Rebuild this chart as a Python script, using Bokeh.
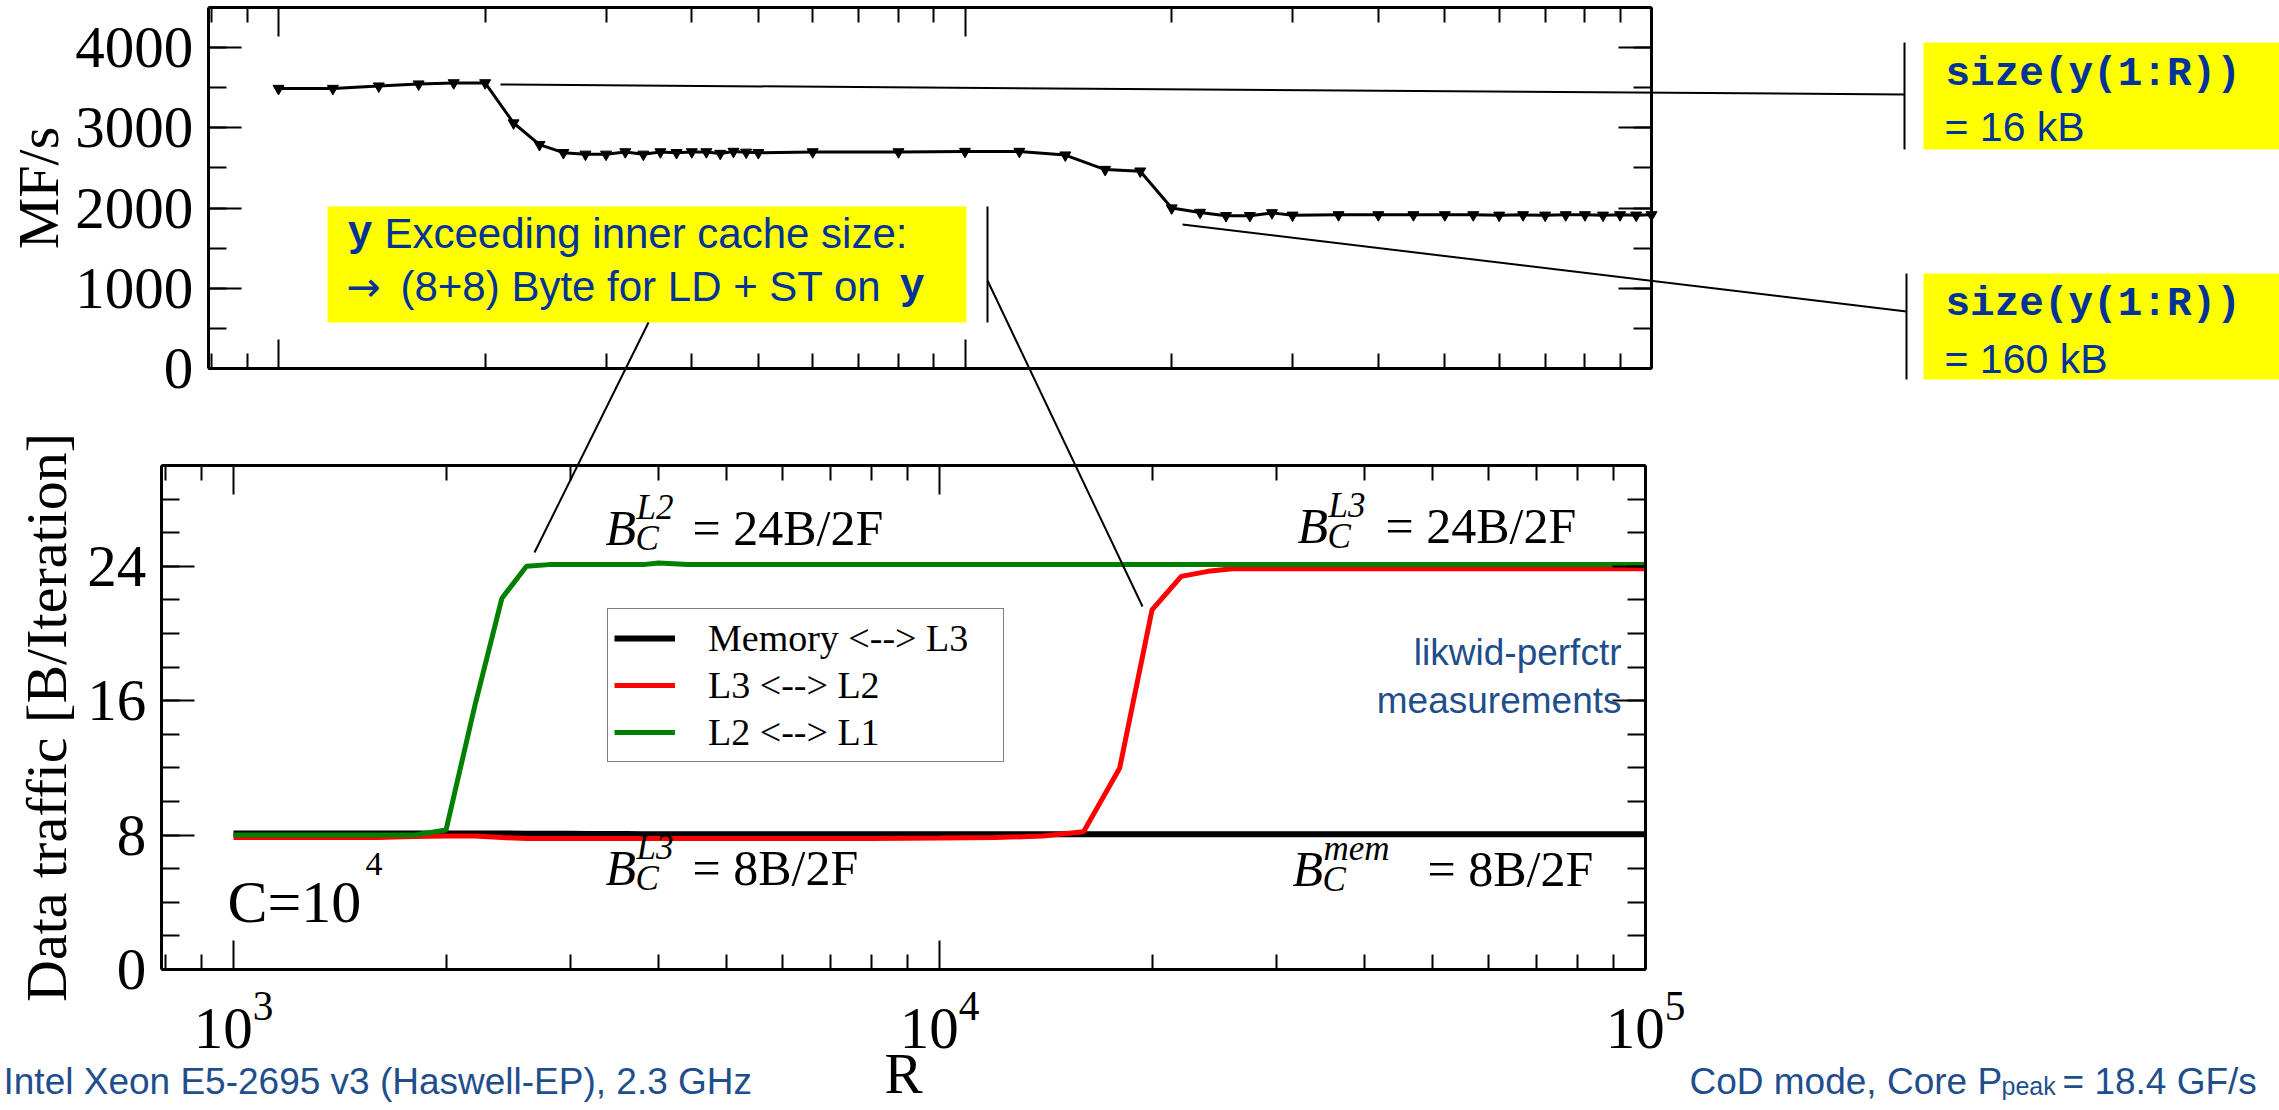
import math

from bokeh.embed import file_html
from bokeh.models import (Arrow, BoxAnnotation, CustomJSTickFormatter, FixedTicker, Label,
                          Legend, LegendItem, LinearAxis, LogAxis, LogScale, Range1d,
                          SingleIntervalTicker)
from bokeh.plotting import figure
from bokeh.resources import INLINE

# ---------------------------------------------------------------- data
# loop length R, shared by both panels
R = [1000, 1200, 1400, 1600, 1800, 2000, 2200, 2400, 2600, 2800,
     3000, 3200, 3400, 3600, 3800, 4000, 4200, 4400, 4600, 4800,
     5000, 6000, 8000, 10000, 12000, 14000, 16000, 18000, 20000, 22000,
     24000, 26000, 28000, 30000, 35000, 40000, 45000, 50000, 55000, 60000,
     65000, 70000, 75000, 80000, 85000, 90000, 95000, 100000]

# performance [MF/s]
mflops = [3490, 3490, 3520, 3545, 3560, 3560, 3060, 2790, 2690, 2670,
          2670, 2700, 2670, 2700, 2690, 2700, 2700, 2680, 2705, 2695,
          2690, 2700, 2700, 2705, 2705, 2660, 2480, 2460, 2000, 1945,
          1905, 1905, 1940, 1910, 1915, 1915, 1915, 1915, 1915, 1910,
          1915, 1910, 1915, 1915, 1910, 1915, 1910, 1915]

# measured data traffic [B/Iteration]
traffic_mem = [8.10, 8.10, 8.10, 8.10, 8.10, 8.10, 8.10, 8.10, 8.08, 8.08,
               8.08, 8.06, 8.06, 8.06, 8.05, 8.05, 8.05, 8.05, 8.05, 8.05,
               8.05, 8.05, 8.05, 8.05, 8.05, 8.05, 8.05, 8.05, 8.05, 8.05,
               8.05, 8.05, 8.05, 8.05, 8.05, 8.05, 8.05, 8.05, 8.05, 8.05,
               8.05, 8.05, 8.05, 8.05, 8.05, 8.05, 8.05, 8.05]
traffic_l3 = [7.85, 7.85, 7.85, 7.85, 7.92, 7.95, 7.95, 7.85, 7.80, 7.80,
              7.80, 7.80, 7.80, 7.80, 7.80, 7.80, 7.80, 7.80, 7.80, 7.80,
              7.80, 7.80, 7.80, 7.82, 7.85, 7.95, 8.20, 12.0, 21.4, 23.4,
              23.7, 23.85, 23.85, 23.85, 23.85, 23.85, 23.85, 23.85, 23.85, 23.85,
              23.85, 23.85, 23.85, 23.85, 23.85, 23.85, 23.85, 23.85]
traffic_l2 = [8.00, 8.00, 8.00, 8.00, 8.00, 8.30, 15.8, 22.1, 24.0, 24.1,
              24.1, 24.1, 24.1, 24.1, 24.1, 24.2, 24.15, 24.1, 24.1, 24.1,
              24.1, 24.1, 24.1, 24.1, 24.1, 24.1, 24.1, 24.1, 24.1, 24.1,
              24.1, 24.1, 24.1, 24.1, 24.1, 24.1, 24.1, 24.1, 24.1, 24.1,
              24.1, 24.1, 24.1, 24.1, 24.1, 24.1, 24.1, 24.1]

legend_labels = ["Memory <--> L3", "L3 <--> L2", "L2 <--> L1"]
decades = [1000, 10000, 100000]

# ---------------------------------------------------------------- page setup
W, H = 2279, 1110
X_MIN, X_MAX = 790, 100000
SERIF, SANS, MONO = "Liberation Serif", "Liberation Sans", "Liberation Mono"
BLUE, STEEL, YELLOW = "#003399", "#1F4E8C", "#FFFF00"
LABEL_LIFT = 17  # Label anchors sit this far above the drawn baseline

minor_x = [m * 10 ** k for k in (2, 3, 4) for m in range(2, 10)
           if X_MIN <= m * 10 ** k <= X_MAX]


def log_range(px_1e3, px_1e5):
    """x range spanning the whole page, given where 10^3 and 10^5 sit (page px)."""
    dec = (px_1e5 - px_1e3) / 2.0
    return Range1d(10 ** (3 - px_1e3 / dec), 10 ** (3 + (W - px_1e3) / dec))


def lin_range(px_zero, px_top, top_value):
    """y range spanning the whole page, given the page rows of 0 and top_value."""
    per_px = top_value / (px_zero - px_top)
    return Range1d((px_zero - H) * per_px, px_zero * per_px)


# page coordinates (x right, y down) are the main ranges; each panel has its own scales
p = figure(width=W, height=H, x_range=Range1d(0, W), y_range=Range1d(H, 0),
           x_axis_type=None, y_axis_type=None, output_backend="svg",
           toolbar_location=None, min_border=0, outline_line_color=None,
           background_fill_color="white", border_fill_color="white")
p.extra_x_ranges = {"xtop": log_range(278, 1651), "xbot": log_range(233, 1645)}
p.extra_x_scales = {"xtop": LogScale(), "xbot": LogScale()}
p.extra_y_ranges = {"mf": lin_range(368, 7, 4500), "traffic": lin_range(969, 465, 30)}


def style_axis(ax, major_len, minor_len, labelled):
    ax.axis_line_width = 3
    ax.axis_line_color = "black"
    ax.major_tick_in = major_len
    ax.major_tick_out = 0
    ax.minor_tick_in = minor_len
    ax.minor_tick_out = 0
    ax.major_tick_line_width = 2
    ax.minor_tick_line_width = 2
    ax.major_tick_line_color = "black"
    ax.minor_tick_line_color = "black"
    if labelled:
        ax.major_label_text_font = SERIF
        ax.major_label_text_font_size = "59px"
        ax.major_label_text_color = "black"
        ax.major_label_standoff = 15
    else:
        ax.formatter = CustomJSTickFormatter(code="return ''")
        ax.major_label_text_font_size = "0px"
        ax.major_label_standoff = 0


def add_panel(xr, yr, y_max, y_step, y_minor, y_label, label_standoff, x_labels):
    common = dict(x_range_name=xr, y_range_name=yr)
    for side, loc in (("below", 0), ("above", y_max)):
        ax = LogAxis(ticker=FixedTicker(ticks=decades, minor_ticks=minor_x),
                     fixed_location=loc, bounds=(X_MIN, X_MAX), **common)
        style_axis(ax, 29, 15, x_labels and side == "below")
        if x_labels and side == "below":
            ax.major_label_standoff = 23
            ax.axis_label = "R"
            ax.axis_label_text_font = SERIF
            ax.axis_label_text_font_size = "57px"
            ax.axis_label_text_font_style = "normal"
            ax.axis_label_text_color = "black"
            ax.axis_label_standoff = -9
        p.add_layout(ax, side)
    for side, loc in (("left", X_MIN), ("right", X_MAX)):
        ax = LinearAxis(ticker=SingleIntervalTicker(interval=y_step, num_minor_ticks=y_minor),
                        fixed_location=loc, bounds=(0, y_max), **common)
        style_axis(ax, 33, 18, side == "left")
        if side == "left":
            ax.axis_label = y_label
            ax.axis_label_text_font = SERIF
            ax.axis_label_text_font_size = "58px"
            ax.axis_label_text_font_style = "normal"
            ax.axis_label_text_color = "black"
            ax.axis_label_standoff = label_standoff
        p.add_layout(ax, side)


def add_text(x, y, text, font, size, color="black", style="normal", align="left"):
    p.add_layout(Label(x=x, y=y - LABEL_LIFT, text=text, text_font=font,
                       text_font_size=f"{size}px", text_color=color,
                       text_font_style=style, text_align=align,
                       text_baseline="alphabetic"))


def add_box(l, r, t, b):
    p.add_layout(BoxAnnotation(left=l, right=r, top=t, bottom=b, fill_color=YELLOW,
                               fill_alpha=1.0, line_color=None))


def add_rule(x0, y0, x1, y1, width=2):
    p.add_layout(Arrow(end=None, x_start=x0, y_start=y0, x_end=x1, y_end=y1,
                       line_width=width, line_color="black"))


def add_balance(x, base, level, rhs, rhs_x):
    add_text(x, base, "B", SERIF, 50, style="italic")
    add_text(x + 30, base + 11, "C", SERIF, 35, style="italic")
    add_text(x + 31, base - 20, level, SERIF, 35, style="italic")
    add_text(rhs_x, base, rhs, SERIF, 50)


# ---------------------------------------------------------------- performance panel
add_panel("xtop", "mf", 4500, 1000, 2, "MF/s", 2, False)
p.line(R, mflops, line_width=3, line_color="black", x_range_name="xtop", y_range_name="mf")
p.scatter(R, mflops, marker="inverted_triangle", size=11, color="black",
          x_range_name="xtop", y_range_name="mf")

# ---------------------------------------------------------------- traffic panel
add_panel("xbot", "traffic", 30, 8, 4, "Data traffic [B/Iteration]", 6, True)
tr = dict(x_range_name="xbot", y_range_name="traffic")
r_mem = p.line(R, traffic_mem, line_width=6, line_color="black", **tr)
r_l3 = p.line(R, traffic_l3, line_width=5, line_color="#FF0000", **tr)
r_l2 = p.line(R, traffic_l2, line_width=5, line_color="#008000", **tr)

legend = Legend(items=[LegendItem(label=legend_labels[0], renderers=[r_mem]),
                       LegendItem(label=legend_labels[1], renderers=[r_l3]),
                       LegendItem(label=legend_labels[2], renderers=[r_l2])],
                location=(607, H - 762), margin=0, padding=6, spacing=1,
                glyph_width=61, glyph_height=46, label_height=46, label_width=289,
                label_standoff=33, label_text_font=SERIF, label_text_font_size="38px",
                label_text_color="black", border_line_color="black", border_line_width=1.5,
                background_fill_color="white", background_fill_alpha=1.0)
p.add_layout(legend)

add_text(227, 918, "C=10", SERIF, 60)
add_text(365, 880, "4", SERIF, 34)

add_balance(605, 544, "L2", "= 24B/2F", 692)
add_balance(1297, 542, "L3", "= 24B/2F", 1385)
add_balance(605, 884, "L3", "= 8B/2F", 692)
add_balance(1292, 885, "mem", "= 8B/2F", 1427)

add_text(1621, 669, "likwid-perfctr", SANS, 37, STEEL, align="right")
add_text(1621, 717, "measurements", SANS, 37, STEEL, align="right")

# ---------------------------------------------------------------- call-outs
add_box(327, 966, 206, 322)
add_text(347, 250, "y", MONO, 42, BLUE, "bold")
add_text(384, 250, "Exceeding inner cache size:", SANS, 42, BLUE)
add_text(346, 303, "\u2192", "DejaVu Sans", 41, BLUE)
add_text(400, 303, "(8+8) Byte for LD + ST on", SANS, 42, BLUE)
add_text(899, 303, "y", MONO, 42, BLUE, "bold")

add_box(1923, W, 42, 149)
add_text(1945, 90, "size(y(1:R))", MONO, 41, BLUE, "bold")
add_text(1944, 143, "=  16 kB", SANS, 41, BLUE)
add_box(1923, W, 273, 379)
add_text(1945, 320, "size(y(1:R))", MONO, 41, BLUE, "bold")
add_text(1944, 375, "= 160 kB", SANS, 41, BLUE)

add_rule(987, 206, 987, 322)
add_rule(1904, 42, 1904, 149)
add_rule(1906, 273, 1906, 379)
add_rule(500, 84, 1904, 94)
add_rule(1182, 224, 1906, 311)
add_rule(648, 322, 534, 552)
add_rule(987, 280, 1142, 606)

# ---------------------------------------------------------------- footer
add_text(3, 1098, "Intel Xeon E5-2695 v3 (Haswell-EP), 2.3 GHz", SANS, 37, STEEL)
add_text(1689, 1098, "CoD mode, Core P", SANS, 37, STEEL)
add_text(2001, 1102, "peak", SANS, 25, STEEL)
add_text(2062, 1098, "= 18.4 GF/s", SANS, 37, STEEL)

open("out.html", "w").write(file_html(p, INLINE))
